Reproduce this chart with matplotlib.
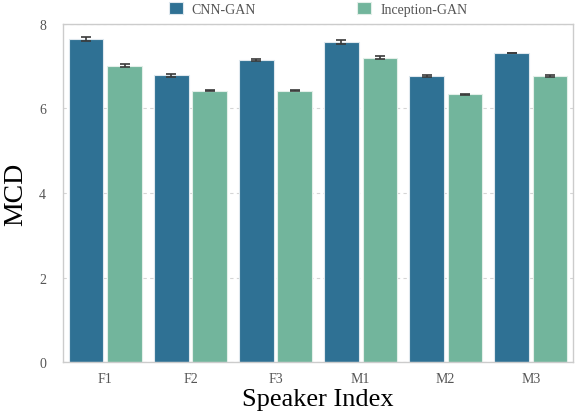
import matplotlib.pyplot as plt
import numpy as np

speakers = ['F1', 'F2', 'F3', 'M1', 'M2', 'M3']
cnn_gan = [7.64, 6.78, 7.15, 7.57, 6.76, 7.31]
cnn_err = [0.05, 0.03, 0.02, 0.05, 0.02, 0.01]
inception_gan = [7.01, 6.42, 6.42, 7.20, 6.33, 6.76]
inception_err = [0.04, 0.02, 0.01, 0.04, 0.02, 0.02]

plt.rcParams['font.family'] = ['Liberation Serif', 'DejaVu Serif']

fig = plt.figure(figsize=(5.82, 4.14), dpi=100)
ax = fig.add_axes([0.108, 0.123, 0.877, 0.817])

x = np.arange(len(speakers))
w = 0.405
off = 0.225
ax.bar(x - off, cnn_gan, w, color='#2f7194', edgecolor='#dfe8ee', linewidth=0.8,
       label='CNN-GAN', zorder=2)
ax.bar(x + off, inception_gan, w, color='#72b59c', edgecolor='#e3efe9', linewidth=0.8,
       label='Inception-GAN', zorder=2)
ax.errorbar(x - off, cnn_gan, yerr=cnn_err, fmt='none', ecolor='#3a3a3a',
            elinewidth=1.2, capsize=3.5, capthick=1.2, zorder=3)
ax.errorbar(x + off, inception_gan, yerr=inception_err, fmt='none', ecolor='#3a3a3a',
            elinewidth=1.2, capsize=3.5, capthick=1.2, zorder=3)

ax.set_xlim(-0.5, 5.5)
ax.set_ylim(0, 8)
ax.set_yticks([0, 2, 4, 6, 8])
ax.set_xticks(x)
ax.set_xticklabels(speakers)
ax.yaxis.grid(True, linestyle=(0, (3, 3)), color='#d5d5d5', linewidth=0.8, zorder=0)
ax.set_axisbelow(True)
for s in ax.spines.values():
    s.set_color('#cccccc')
    s.set_linewidth(1.0)
ax.tick_params(length=0, labelsize=10, labelcolor='#555555')
ax.tick_params(axis='y', pad=12)
ax.tick_params(axis='x', pad=7)

ax.set_xlabel('Speaker Index', fontsize=19, labelpad=2)
ax.set_ylabel('MCD', fontsize=20, labelpad=8)

ax.legend(loc='center', bbox_to_anchor=(0.5, 1.045), ncol=2, frameon=False,
          fontsize=10, labelcolor='#555555', columnspacing=7.3,
          handlelength=1.0, handleheight=1.0, handletextpad=0.65, borderaxespad=0)

fig.savefig('out.png', dpi=100)
